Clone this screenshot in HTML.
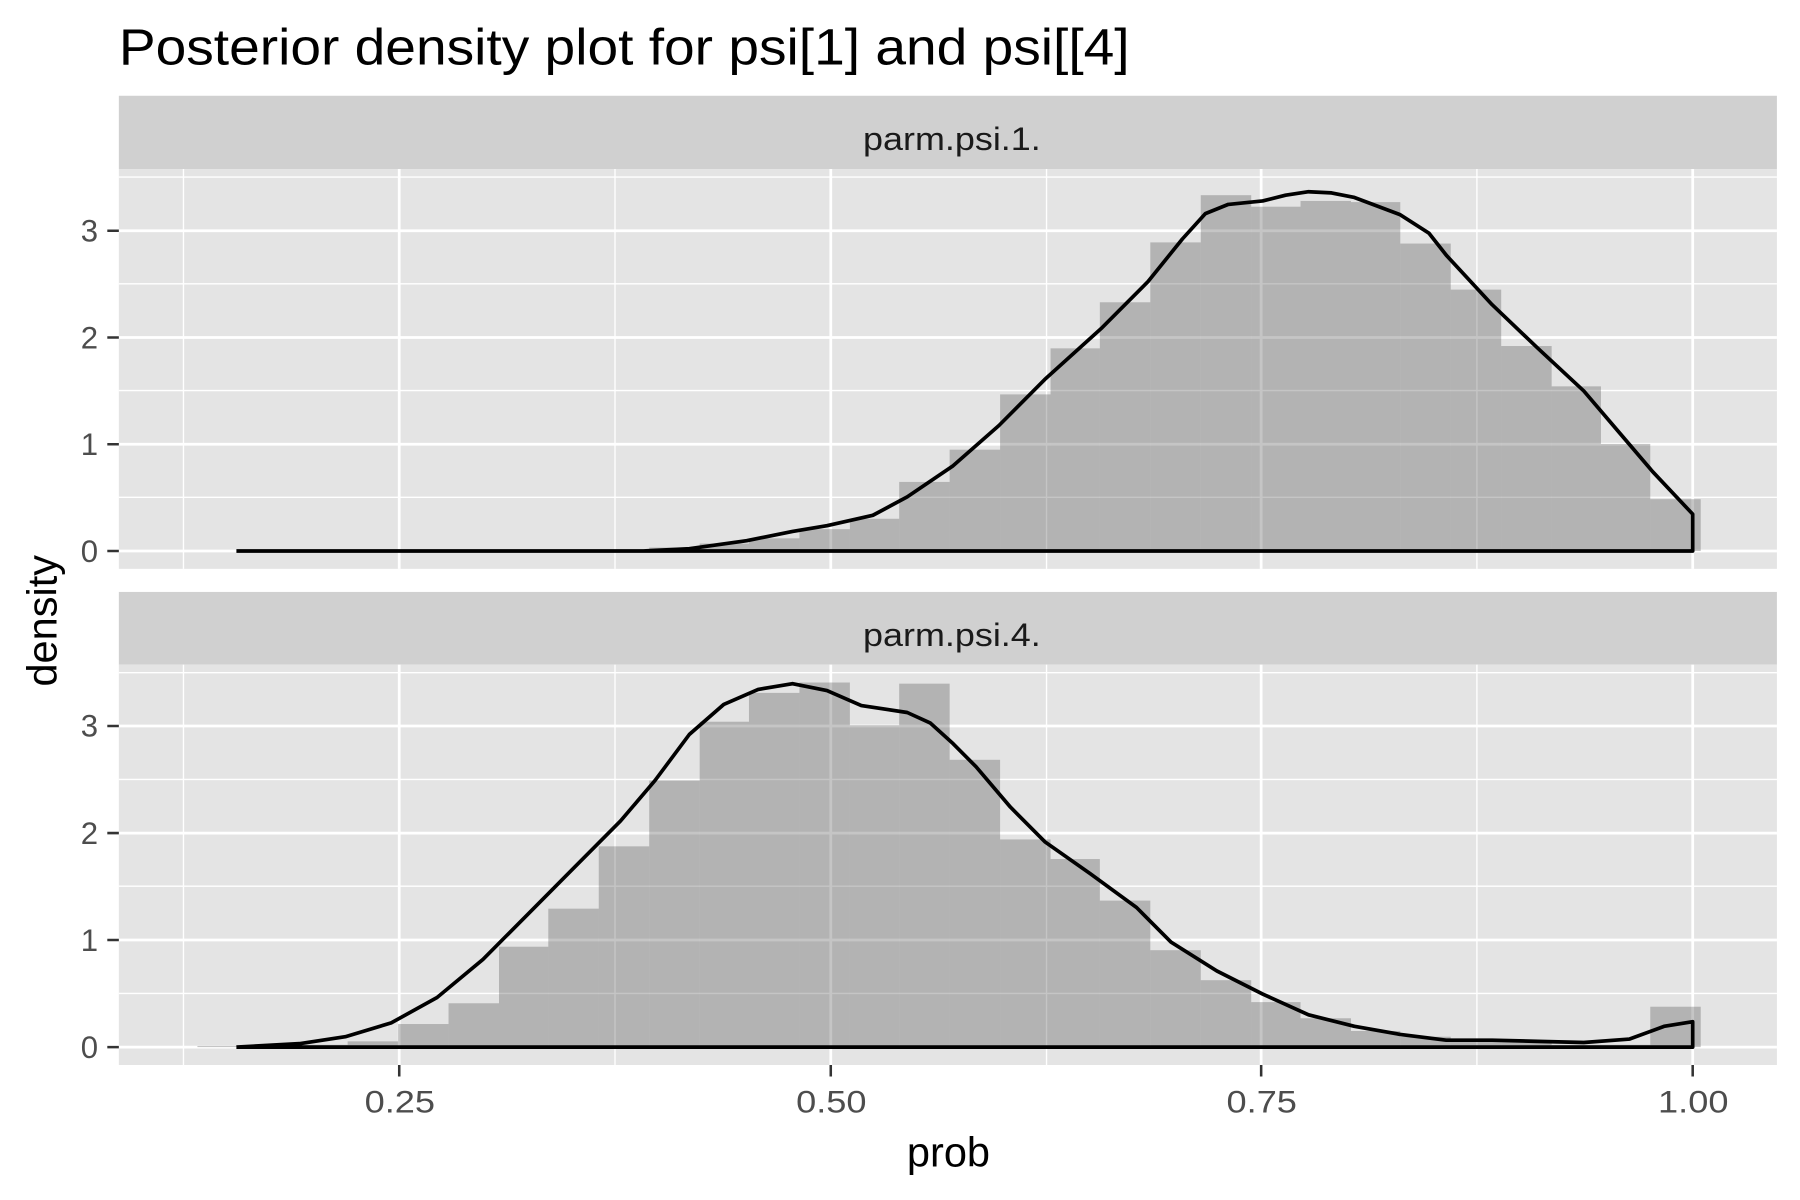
<!DOCTYPE html>
<html><head><meta charset="utf-8"><style>html,body{margin:0;padding:0;background:#fff}svg{display:block}</style></head>
<body>
<svg width="1800" height="1200" viewBox="0 0 1560 1040" xmlns="http://www.w3.org/2000/svg" font-family="Liberation Sans, sans-serif">
<rect width="1560" height="1040" fill="#fff"/>
<text x="103" y="56" font-size="44" fill="#000" textLength="876" lengthAdjust="spacingAndGlyphs">Posterior density plot for psi[1] and psi[[4]</text>
<!-- strips -->
<rect x="103" y="83" width="1437" height="63.5" fill="#D0D0D0"/>
<text x="748" y="130" font-size="28" fill="#1A1A1A" textLength="154" lengthAdjust="spacingAndGlyphs">parm.psi.1.</text>
<rect x="103" y="513" width="1437" height="63" fill="#D0D0D0"/>
<text x="748" y="560" font-size="28" fill="#1A1A1A" textLength="154" lengthAdjust="spacingAndGlyphs">parm.psi.4.</text>
<!-- panels -->
<rect x="103" y="146.5" width="1437" height="346.5" fill="#E4E4E4"/>
<rect x="103" y="576" width="1437" height="347" fill="#E4E4E4"/>
<g stroke="#fff" fill="none">
 <g stroke-width="1.2">
  <path d="M159 146.5V493M533 146.5V493M907 146.5V493M1280 146.5V493M159 576V923M533 576V923M907 576V923M1280 576V923"/>
  <path d="M103 431H1540M103 338.5H1540M103 246H1540M103 153.5H1540M103 861H1540M103 768H1540M103 675.5H1540M103 583H1540"/>
 </g>
 <g stroke-width="2.4">
  <path d="M346 146.5V493M720 146.5V493M1093 146.5V493M1467 146.5V493M346 576V923M720 576V923M1093 576V923M1467 576V923"/>
  <path d="M103 477.5H1540M103 385H1540M103 292.5H1540M103 200H1540M103 907.5H1540M103 814.7H1540M103 722H1540M103 629.2H1540"/>
 </g>
</g>
<!-- panel 1 data -->
<g transform="matrix(0.9938,0,0,0.998,1.15,-0.5)">
<g fill="#595959" fill-opacity="0.35">
<rect x="565" y="476" width="44" height="3"/>
<rect x="609" y="472.5" width="43" height="6.5"/>
<rect x="652" y="468" width="44" height="11"/>
<rect x="696" y="460" width="44" height="19"/>
<rect x="740" y="451" width="43" height="28"/>
<rect x="783" y="419" width="44" height="60"/>
<rect x="827" y="391" width="44" height="88"/>
<rect x="871" y="343" width="44" height="136"/>
<rect x="915" y="303" width="43" height="176"/>
<rect x="958" y="263" width="44" height="216"/>
<rect x="1002" y="211" width="44" height="268"/>
<rect x="1046" y="170" width="44" height="309"/>
<rect x="1090" y="180" width="43" height="299"/>
<rect x="1133" y="175" width="44" height="304"/>
<rect x="1177" y="176" width="43" height="303"/>
<rect x="1220" y="212" width="44" height="267"/>
<rect x="1264" y="252" width="44" height="227"/>
<rect x="1308" y="301" width="44" height="178"/>
<rect x="1352" y="336" width="43" height="143"/>
<rect x="1395" y="386" width="43" height="93"/>
<rect x="1438" y="434" width="44" height="45"/>
</g>
<polyline fill="none" stroke="#000" stroke-width="3.2" stroke-linejoin="round" points="205,479 560,479 600,477 650,470 690,462 720,457 760,448 790,432 830,405 870,370 910,330 960,285 1000,245 1030,208 1050,186 1070,178 1100,175 1120,170 1140,167 1160,168 1180,172 1220,187 1245,203 1260,222 1300,265 1340,303 1380,340 1410,375 1440,410 1475,447 1475,479 205,479"/>
</g>
<!-- panel 2 data -->
<g transform="matrix(0.9938,0,0,1,1.15,-3.5)">
<g fill="#595959" fill-opacity="0.35">
<rect x="171" y="910" width="44" height="1"/>
<rect x="258" y="909" width="44" height="2"/>
<rect x="302" y="906" width="44" height="5"/>
<rect x="346" y="891" width="44" height="20"/>
<rect x="390" y="873" width="44" height="38"/>
<rect x="434" y="824" width="43" height="87"/>
<rect x="477" y="791" width="44" height="120"/>
<rect x="521" y="737" width="44" height="174"/>
<rect x="565" y="680" width="44" height="231"/>
<rect x="609" y="629" width="43" height="282"/>
<rect x="652" y="604" width="44" height="307"/>
<rect x="696" y="595" width="44" height="316"/>
<rect x="740" y="632" width="43" height="279"/>
<rect x="783" y="596" width="44" height="315"/>
<rect x="827" y="662" width="44" height="249"/>
<rect x="871" y="731" width="44" height="180"/>
<rect x="915" y="748" width="43" height="163"/>
<rect x="958" y="784" width="44" height="127"/>
<rect x="1002" y="827" width="44" height="84"/>
<rect x="1046" y="853" width="44" height="58"/>
<rect x="1090" y="872" width="43" height="39"/>
<rect x="1133" y="886" width="44" height="25"/>
<rect x="1177" y="897" width="43" height="14"/>
<rect x="1220" y="902" width="44" height="9"/>
<rect x="1264" y="906" width="44" height="5"/>
<rect x="1308" y="906" width="44" height="5"/>
<rect x="1352" y="909" width="43" height="2"/>
<rect x="1395" y="909" width="43" height="2"/>
<rect x="1438" y="876" width="44" height="35"/>
</g>
<polyline fill="none" stroke="#000" stroke-width="3.2" stroke-linejoin="round" points="205,911 260,908 300,902 340,890 380,868 420,835 460,795 500,755 540,715 570,680 600,640 630,614 660,601 690,596 720,602 750,615 790,621 810,630 830,648 850,668 880,703 910,733 950,761 990,790 1020,820 1060,845 1100,865 1140,883 1180,893 1220,900 1260,905 1300,905 1340,906 1380,907 1420,904 1450,893 1475,889 1475,911 205,911"/>
</g>
<!-- ticks -->
<g stroke="#333" stroke-width="2.2">
<path d="M93 477.5H103M93 385H103M93 292.5H103M93 200H103M93 907.5H103M93 814.7H103M93 722H103M93 629.2H103"/>
<path d="M346 923V933M720 923V933M1093 923V933M1467 923V933"/>
</g>
<g font-size="27" fill="#4D4D4D" text-anchor="end">
<text x="85" y="487">0</text><text x="85" y="394.5">1</text><text x="85" y="302">2</text><text x="85" y="209.5">3</text>
<text x="85" y="917">0</text><text x="85" y="824">1</text><text x="85" y="731.5">2</text><text x="85" y="638.5">3</text>
</g>
<g font-size="27" fill="#4D4D4D">
<text x="316" y="964" textLength="61" lengthAdjust="spacingAndGlyphs">0.25</text><text x="690" y="964" textLength="61" lengthAdjust="spacingAndGlyphs">0.50</text><text x="1063" y="964" textLength="61" lengthAdjust="spacingAndGlyphs">0.75</text><text x="1437" y="964" textLength="61" lengthAdjust="spacingAndGlyphs">1.00</text>
</g>
<text x="822" y="1011" font-size="36" text-anchor="middle" fill="#000">prob</text>
<text transform="translate(49,538) rotate(-90)" font-size="36" text-anchor="middle" fill="#000">density</text>
</svg>
</body></html>
